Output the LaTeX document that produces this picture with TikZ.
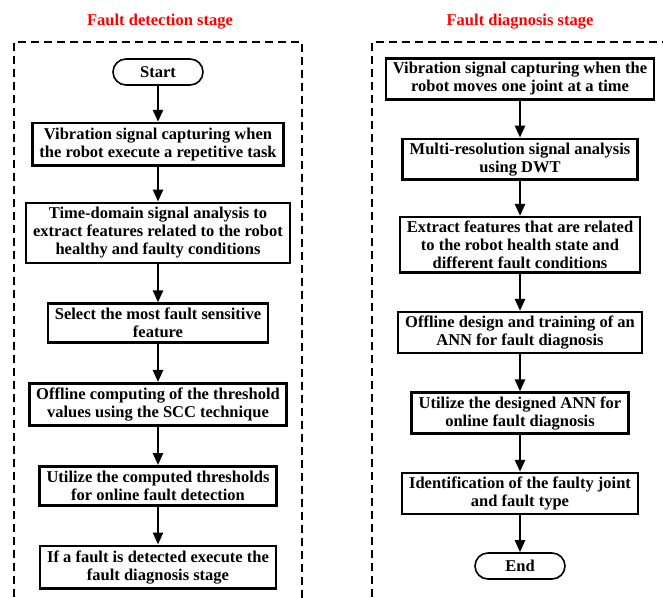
\documentclass[tikz,border=0pt]{standalone}
\usepackage{fontspec}
\setmainfont{Liberation Serif}
\usetikzlibrary{positioning,arrows.meta}

\begin{document}
\begin{tikzpicture}[x=1pt,y=1pt,
  font=\fontsize{16.5}{18}\selectfont\bfseries,
  stepbox/.style={draw,line width=2.6pt,align=center,inner xsep=7pt,inner ysep=3.8pt},
  term/.style={draw,line width=1.6pt,rounded corners=13pt,minimum width=90pt,minimum height=26pt},
  title/.style={text=red},
  frame/.style={draw,dashed,line width=1.3pt,dash pattern=on 8pt off 5pt},
  flow/.style={-{Triangle[length=12pt,width=10pt]},line width=2.5pt},
  node distance=37pt]
 \useasboundingbox (0,0) rectangle (663,-597);
 % fault detection stage
 \begin{scope}[node distance=38pt, stepbox/.append style={inner ysep=4.6pt}]
 \node[title] (t1) at (160,-22) {Fault detection stage};
 \draw[frame] (14,-610) -- (14,-42) -- (302,-42) -- (302,-610);
 \node[term] (start) at (158,-72) {Start};
 \node[stepbox, below=36pt of start] (d1) {Vibration signal capturing when\\the robot execute a repetitive task};
 \node[stepbox, below=35pt of d1] (d2) {Time-domain signal analysis to\\extract features related to the robot\\healthy and faulty conditions};
 \node[stepbox, below=of d2] (d3) {Select the most fault sensitive\\feature};
 \node[stepbox, below=of d3] (d4) {Offline computing of the threshold\\values using the SCC technique};
 \node[stepbox, below=of d4] (d5) {Utilize the computed thresholds\\for online fault detection};
 \node[stepbox, below=of d5] (d6) {If a fault is detected execute the\\fault diagnosis stage};
 \foreach \a/\b in {start/d1,d1/d2,d2/d3,d3/d4,d4/d5,d5/d6}
   \draw[flow] (\a) -- (\b);
 \end{scope}
 % fault diagnosis stage
 \node[title] (t2) at (520,-22) {Fault diagnosis stage};
 \draw[frame] (372,-610) -- (372,-42) -- (680,-42);
 \node[stepbox] (g1) at (520,-79) {Vibration signal capturing when the\\robot moves one joint at a time};
 \node[stepbox, below=of g1] (g2) {Multi-resolution signal analysis\\using DWT};
 \node[stepbox, below=35pt of g2] (g3) {Extract features that are related\\to the robot health state and\\different fault conditions};
 \node[stepbox, below=of g3] (g4) {Offline design and training of an\\ANN for fault diagnosis};
 \node[stepbox, below=of g4] (g5) {Utilize the designed ANN for\\online fault diagnosis};
 \node[stepbox, below=of g5] (g6) {Identification of the faulty joint\\and fault type};
 \node[term, below=of g6] (end) {End};
 \foreach \a/\b in {g1/g2,g2/g3,g3/g4,g4/g5,g5/g6,g6/end}
   \draw[flow] (\a) -- (\b);
\end{tikzpicture}
\end{document}
